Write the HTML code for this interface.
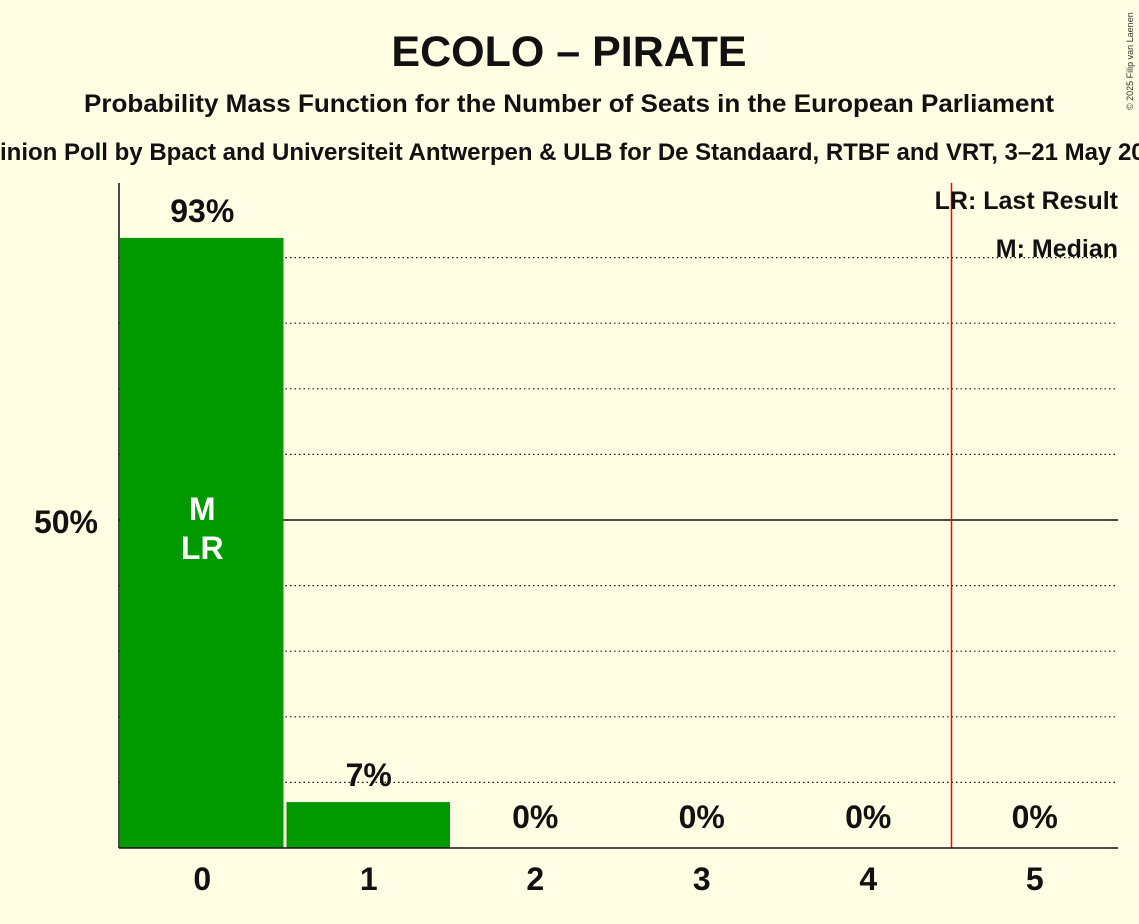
<!DOCTYPE html>
<html><head><meta charset="utf-8"><style>
html,body{margin:0;padding:0;background:#fffde3;}
svg{display:block;font-family:"Liberation Sans",sans-serif;font-weight:bold;}
</style></head><body>
<svg id="c" width="1139" height="924" viewBox="0 0 1139 924">
<rect width="1139" height="924" fill="#fffde3"/>
<text x="569" y="66" text-anchor="middle" font-size="43" fill="#111">ECOLO – PIRATE</text>
<text x="569" y="112" text-anchor="middle" font-size="25" fill="#111" textLength="970" lengthAdjust="spacingAndGlyphs">Probability Mass Function for the Number of Seats in the European Parliament</text>
<text x="569" y="160" text-anchor="middle" font-size="24" fill="#111">Opinion Poll by Bpact and Universiteit Antwerpen &amp; ULB for De Standaard, RTBF and VRT, 3–21 May 2024</text>
<text x="1133" y="110" font-size="9" font-weight="normal" fill="#333" transform="rotate(-90 1133 110)">© 2025 Filip van Laenen</text>
<g id="grid"></g><g id="bars"></g><g id="labels"></g>
<line x1="119" y1="183" x2="119" y2="848" stroke="#111" stroke-width="1.5"/>
<line x1="119" y1="848" x2="1118" y2="848" stroke="#111" stroke-width="1.5"/>
<text x="98" y="533" text-anchor="end" font-size="32" fill="#111">50%</text>
<text x="1118" y="209" text-anchor="end" font-size="25" fill="#111">LR: Last Result</text>
<text x="1118" y="257" text-anchor="end" font-size="25" fill="#111">M: Median</text>
</svg>
<script>
const categories=[0,1,2,3,4,5];
const values=[93,7,0,0,0,0];
const valueLabels=["93%","7%","0%","0%","0%","0%"];
const gridTicks=[10,20,30,40,50,60,70,80,90];
const lastResultPos=4.5;
const medianIndex=0, lastResultIndex=0;
const NS="http://www.w3.org/2000/svg";
const x0=119,x1=1118,yb=848,yTop=192;
const bw=(x1-x0)/categories.length;
const y=v=>yb-(yb-yTop)*v/100;
const xc=i=>x0+bw*(i+0.5);
function mk(t,a,p){const e=document.createElementNS(NS,t);for(const k in a)e.setAttribute(k,a[k]);p.appendChild(e);return e;}
const G=document.getElementById('grid'),B=document.getElementById('bars'),L=document.getElementById('labels');
gridTicks.forEach(t=>{
 const e=mk('line',{x1:x0,x2:x1,y1:y(t),y2:y(t),stroke:'#111','stroke-width':t==50?1.5:1.2,'stroke-dasharray':t==50?'':'1.5,3'},G);
 
 
});
categories.forEach((c,i)=>{
 const h=yb-y(values[i]);
 if(values[i]>0){
  const r=mk('rect',{x:x0+bw*i+1,y:y(values[i]),width:bw-3,height:h,fill:'#009900'},B);
  
  
 }
 const ly=values[i]>0?y(values[i])-16:yb-20;
 const t=mk('text',{x:xc(i),y:ly,'text-anchor':'middle','font-size':32,fill:'#111'},L);
 t.textContent=valueLabels[i];
 
 
 const xt=mk('text',{x:xc(i),y:890,'text-anchor':'middle','font-size':32,fill:'#111'},L);
 xt.textContent=c;
 
 
});
const m=mk('text',{x:xc(medianIndex),y:520,'text-anchor':'middle','font-size':32,fill:'#fff'},L);
m.textContent='M';


const lr=mk('text',{x:xc(lastResultIndex),y:559,'text-anchor':'middle','font-size':32,fill:'#fff'},L);
lr.textContent='LR';


const ln=mk('line',{x1:x0+bw*(lastResultPos+0.5),x2:x0+bw*(lastResultPos+0.5),y1:183,y2:848,stroke:'#ff0000','stroke-width':1.5},L);


</script>
</body></html>
